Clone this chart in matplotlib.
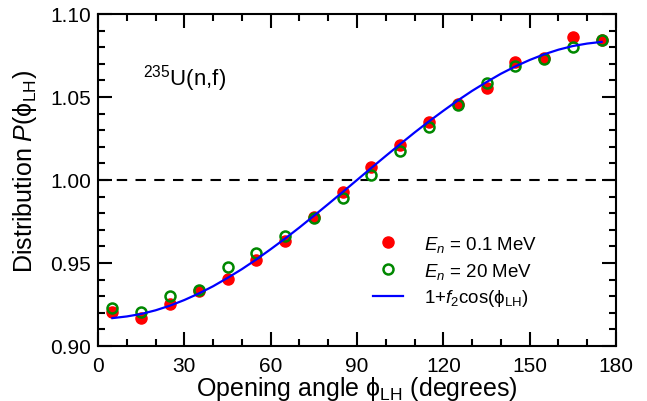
import numpy as np
import matplotlib
matplotlib.use("Agg")
import matplotlib.pyplot as plt

plt.rcParams["font.family"] = ["Liberation Sans", "DejaVu Sans"]
plt.rcParams["mathtext.fontset"] = "custom"
plt.rcParams["mathtext.rm"] = "Liberation Sans"
plt.rcParams["mathtext.it"] = "Liberation Sans:italic"
plt.rcParams["mathtext.bf"] = "Liberation Sans:bold"

# opening angle bins (degrees)
angle = [5, 15, 25, 35, 45, 55, 65, 75, 85, 95, 105, 115, 125, 135, 145, 155, 165, 175]

# E_n = 0.1 MeV
dist_low = [0.9207, 0.9167, 0.9253, 0.9331, 0.9404, 0.9520, 0.9634, 0.9780, 0.9926,
            1.0080, 1.0211, 1.0351, 1.0458, 1.0552, 1.0709, 1.0735, 1.0863, 1.0843]

# E_n = 20 MeV
dist_high = [0.9227, 0.9207, 0.9300, 0.9337, 0.9476, 0.9558, 0.9664, 0.9771, 0.9892,
             1.0030, 1.0173, 1.0321, 1.0452, 1.0582, 1.0689, 1.0729, 1.0803, 1.0843]

fit_angle = list(range(5, 180, 5))
fit_dist = [0.9168, 0.9178, 0.9193, 0.9215, 0.9243, 0.9277, 0.9316, 0.9360, 0.9410,
            0.9463, 0.9521, 0.9583, 0.9647, 0.9714, 0.9784, 0.9855, 0.9927, 1.0000,
            1.0073, 1.0145, 1.0216, 1.0286, 1.0353, 1.0417, 1.0479, 1.0537, 1.0590,
            1.0640, 1.0684, 1.0723, 1.0757, 1.0785, 1.0807, 1.0822, 1.0832]

fig = plt.figure(figsize=(6.47, 4.02), dpi=100)
ax = fig.add_axes([98 / 647, 1 - 347 / 402, 518 / 647, 332 / 402])

ax.axhline(1.0, color="black", lw=1.5, dashes=(5, 4), zorder=1)

ax.plot(angle, dist_low, "o", color="#ff0000", ms=8, mec="#ff0000",
        label=r"$E_n$ = 0.1 MeV", zorder=3)
ax.plot(angle, dist_high, "o", mfc="none", mec="#008800", mew=1.8, ms=7.2,
        label=r"$E_n$ = 20 MeV", zorder=4)
ax.plot(fit_angle, fit_dist, color="#0000ff", lw=1.6,
        label=r"1+$f_2$cos(ϕ$_{\rm LH}$)", zorder=5)

ax.set_xlim(0, 180)
ax.set_ylim(0.90, 1.10)
ax.set_xticks(np.arange(0, 181, 30))
ax.set_xticks(np.arange(0, 181, 10), minor=True)
ax.set_yticks([0.90, 0.95, 1.00, 1.05, 1.10])
ax.set_yticklabels(["0.90", "0.95", "1.00", "1.05", "1.10"])
ax.set_yticks(np.arange(0.90, 1.1001, 0.01), minor=True)

for s in ax.spines.values():
    s.set_linewidth(1.5)
ax.tick_params(which="both", direction="in", top=True, right=True, width=1.5,
               labelsize=15)
ax.tick_params(which="major", length=10)
ax.tick_params(which="minor", length=5)
ax.tick_params(axis="x", pad=7)
ax.tick_params(axis="y", pad=5)

ax.set_xlabel("Opening angle ϕ$_{\\rm LH}$ (degrees)", fontsize=18)
ax.xaxis.set_label_coords(0.5, -(396 - 347) / 332)
ax.xaxis.label.set_va("baseline")
ax.set_ylabel("Distribution $P$(ϕ$_{\\rm LH}$)", fontsize=18)
ax.yaxis.set_label_coords(-(98 - 25) / 518, (347 - 171) / 332)
ax.yaxis.label.set_va("center")

ax.text(0.087, 0.789, r"$^{235}$U(n,f)", transform=ax.transAxes, fontsize=16,
        va="baseline", ha="left")

ax.legend(loc="upper left", bbox_to_anchor=((373 - 98) / 518, (347 - 235) / 332),
          frameon=False, fontsize=13.5, handlelength=1.6, handletextpad=1.1,
          labelspacing=0.35, borderpad=0, borderaxespad=0)

fig.savefig("out.png", dpi=100)
